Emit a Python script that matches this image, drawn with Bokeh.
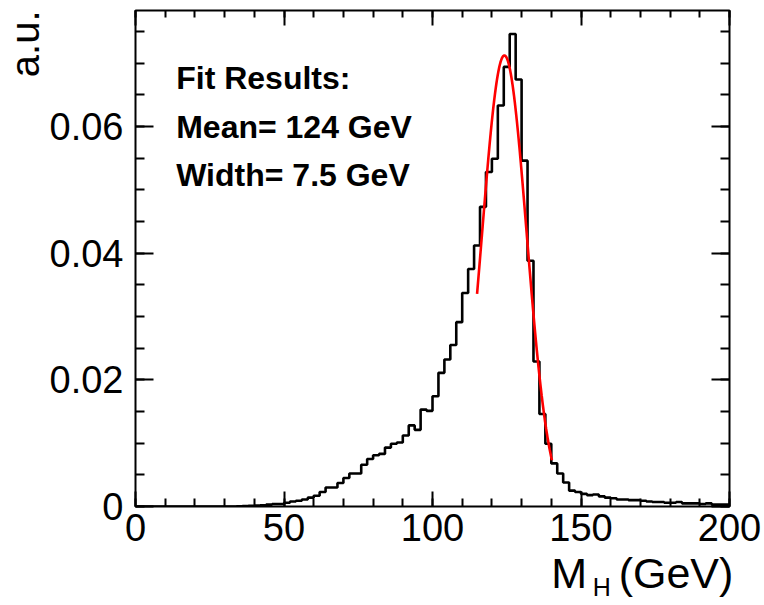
import numpy as np
from bokeh.plotting import figure
from bokeh.models import LinearAxis, FixedTicker, Label, Range1d, Title
from bokeh.embed import file_html
from bokeh.resources import INLINE

# ---------------- data ----------------
bin_width = 2.0
x_lo, x_hi = 0.0, 200.0
y_lo, y_hi = 0.0, 0.0783

# normalised bin contents, 2 GeV bins from 0 to 200 GeV
counts_0_40 = [0.0] * 17 + [0.00003, 0.00006, 0.0001]
counts_40_100 = [0.00015, 0.0002, 0.0003, 0.0004, 0.0004,
                 0.0006, 0.0008, 0.0009, 0.0011, 0.0014,
                 0.0017, 0.0023, 0.0030, 0.0030, 0.0037,
                 0.0045, 0.0052, 0.0052, 0.0066, 0.0075,
                 0.0081, 0.0083, 0.0093, 0.0099, 0.0101,
                 0.0112, 0.0128, 0.0121, 0.0153, 0.0151]
counts_100_150 = [0.0174, 0.0211, 0.0232, 0.0255, 0.0291,
                  0.0337, 0.0375, 0.0412, 0.0473, 0.0528,
                  0.0549, 0.0633, 0.0694, 0.0746, 0.0674,
                  0.0546, 0.0388, 0.0229, 0.0146, 0.0099,
                  0.0068, 0.0052, 0.0038, 0.0025, 0.0023]
counts_150_200 = [0.0020, 0.0018, 0.0019, 0.0016, 0.0014,
                  0.0013, 0.0011, 0.0011, 0.0010, 0.0010,
                  0.0009, 0.0008, 0.0007, 0.0007, 0.0006,
                  0.0006, 0.0007, 0.0005, 0.0005, 0.0005,
                  0.0004, 0.0005, 0.0003, 0.0003, 0.0003]
counts = counts_0_40 + counts_40_100 + counts_100_150 + counts_150_200

# Gaussian fit result
fit_mean = 124.2
fit_sigma = 7.5
fit_amp = 0.0712
fit_range = (115.0, 140.2)

x_ticks = [0, 50, 100, 150, 200]
x_minor = [v for v in range(0, 201, 10)]
y_ticks = [0.0, 0.02, 0.04, 0.06]
y_minor = [round(0.005 * k, 3) for k in range(0, 16)]

fit_lines = ["Fit Results:", "Mean= 124 GeV", "Width= 7.5 GeV"]
y_title = "a.u."
# x title pieces: text and the x (GeV) where each piece is centred
x_title_main = {146: "M", 182: "(GeV)"}
x_title_sub = {157: "H"}

# ---------------- figure ----------------
FONT = "Liberation Sans"
W, H = 764, 605
p = figure(width=W, height=H, output_backend="svg", toolbar_location=None,
           x_range=Range1d(x_lo, x_hi), y_range=Range1d(y_lo, y_hi),
           x_axis_location=None, y_axis_location=None,
           min_border_left=134, min_border_top=10,
           min_border_right=W - 729, min_border_bottom=H - 506)
p.grid.grid_line_color = None
p.outline_line_color = "black"
p.outline_line_width = 2
p.background_fill_color = "white"
p.border_fill_color = "white"


def make_axis(ticks, minor, tick_in, minor_in, show_labels, standoff, overrides=None):
    ax = LinearAxis(ticker=FixedTicker(ticks=ticks, minor_ticks=minor))
    ax.axis_line_color = None
    ax.major_tick_in = tick_in
    ax.major_tick_out = 0
    ax.minor_tick_in = minor_in
    ax.minor_tick_out = 0
    ax.major_tick_line_width = 2
    ax.minor_tick_line_width = 2
    ax.major_tick_line_color = "black"
    ax.minor_tick_line_color = "black"
    if show_labels:
        ax.major_label_text_font = FONT
        ax.major_label_text_font_size = "38px"
        ax.major_label_text_color = "black"
        ax.major_label_standoff = standoff
        if overrides:
            ax.major_label_overrides = overrides
    else:
        ax.major_label_text_font_size = "0px"
        ax.major_label_standoff = 0
        ax.major_label_overrides = {t: "" for t in ticks}
    return ax


def title_axis(pieces, size, standoff):
    ticks = sorted(pieces)
    ax = LinearAxis(ticker=FixedTicker(ticks=ticks, minor_ticks=[]))
    ax.axis_line_color = None
    ax.major_tick_line_color = None
    ax.minor_tick_line_color = None
    ax.major_tick_in = 0
    ax.major_tick_out = 0
    ax.minor_tick_in = 0
    ax.minor_tick_out = 0
    ax.major_label_text_font = FONT
    ax.major_label_text_font_size = size
    ax.major_label_text_color = "black"
    ax.major_label_standoff = standoff
    ax.major_label_overrides = dict(pieces)
    return ax


p.add_layout(make_axis(x_ticks, x_minor, 15, 8, True, 7), "below")
p.add_layout(title_axis(x_title_main, "43px", 5), "below")
p.add_layout(title_axis(x_title_sub, "25px", -27), "below")
p.add_layout(make_axis(x_ticks, x_minor, 15, 7, False, 0), "above")
p.add_layout(make_axis(y_ticks, y_minor, 18, 9, True, 12, {0: "0"}), "left")
p.add_layout(make_axis(y_ticks, y_minor, 18, 9, False, 0), "right")

# y-axis title, top-aligned on the left
p.add_layout(Title(text=y_title, align="right", text_font=FONT, text_font_size="40px",
                   text_font_style="normal", text_color="black", standoff=0, offset=0),
             "left")

# histogram outline
edges = np.arange(x_lo, x_hi + bin_width / 2, bin_width)
step_y = list(counts) + [counts[-1]]
p.step(x=edges, y=step_y, mode="after", line_color="black", line_width=2.6)

# fit curve
fx = np.linspace(fit_range[0], fit_range[1], 300)
fy = fit_amp * np.exp(-0.5 * ((fx - fit_mean) / fit_sigma) ** 2)
p.line(fx, fy, line_color="red", line_width=2.6)

# fit result text
for txt, yv in zip(fit_lines, [0.0676, 0.0599, 0.0523]):
    p.add_layout(Label(x=13.7, y=yv, text=txt, text_font=FONT, text_font_style="bold",
                       text_font_size="32px", text_color="black",
                       text_baseline="alphabetic", text_align="left"))

open("out.html", "w").write(file_html(p, INLINE))
